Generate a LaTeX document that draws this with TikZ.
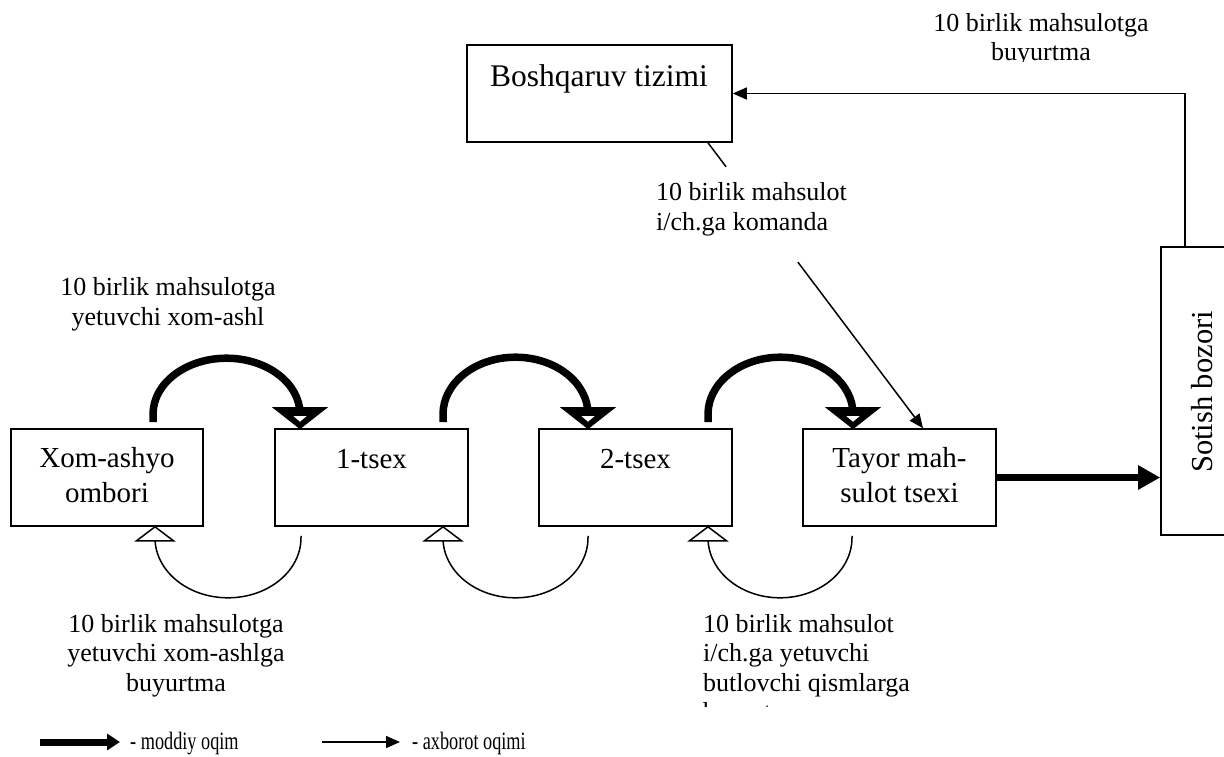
\documentclass[tikz,border=0pt]{standalone}
\usepackage{fontspec}
\setmainfont{Liberation Serif}
\usetikzlibrary{arrows.meta,calc}
\newcommand\matheadtip[1]{%
  \fill (#1) ++(-28,-22) -- ++(56,0) -- (#1) -- cycle;
  \fill[white] (#1) ++(-6.5,-13) -- ++(13,0) -- ++(-6.5,5.5) -- cycle;}
\newcommand\openheadtip[1]{%
  \draw[info, fill=white, line join=miter] (#1) -- ++(18.5,14) -- ++(-37,0) -- cycle;}
\newcommand\narrowtxt[1]{\scalebox{0.73}[1]{#1}}
\begin{document}
\begin{tikzpicture}[x=1pt,y=-1pt,
  box/.style={draw, line width=1.6pt, inner sep=0pt, minimum width=193pt, minimum height=97pt},
  lbl/.style={font=\fontsize{26}{29.5}\selectfont, inner sep=0pt},
  btxt/.style={font=\fontsize{29}{35}\selectfont, inner sep=0pt, anchor=base, align=center},
  matflow/.style={line width=7.5pt},
  info/.style={line width=1.5pt},
  infoarrow/.style={info, -{Triangle[length=14pt,width=12pt]}},
  legtxt/.style={font=\fontsize{25}{28}\selectfont, inner sep=0pt, anchor=base west},
]
\useasboundingbox (0,0) rectangle (1224,756);

% boxes
\node[box, minimum width=192pt] (xom) at (107,477.5) {};
\node[box] (t1) at (371.5,477.5) {};
\node[box] (t2) at (635.5,477.5) {};
\node[box] (tay) at (899.5,477.5) {};
\node[box, minimum width=265pt, minimum height=97pt] (bosh) at (599.5,93.5) {};
\node[box, minimum width=65pt, minimum height=288pt] (sot) at (1193.5,391) {};

% box texts (anchor base = baseline of the last line)
\node[btxt] (xomT) at (107,502) {Xom-ashyo\\ombori};
\node[btxt] (t1T) at (371.5,468) {1-tsex};
\node[btxt] (t2T) at (635.5,468) {2-tsex};
\node[btxt] (tayT) at (899.5,502) {Tayor mah-\\sulot tsexi};
\node[btxt, font=\fontsize{31.5}{36}\selectfont] (boshT) at (599,86) {Boshqaruv tizimi};
\node[font=\fontsize{30.5}{36}\selectfont, inner sep=0pt, rotate=90, anchor=base] (sotT) at (1212,392) {Sotish bozori};

% material flow arcs (top)
\draw[matflow] ([xshift=46pt,yshift=6pt]xom.north) -- ++(0,-8)
  arc[start angle=180, end angle=0, x radius=73.5pt, y radius=56pt] -- ++(0,6);
\matheadtip{$(t1.north)+(-71.5,1)$}
\draw[matflow] ([xshift=71.5pt,yshift=6pt]t1.north) -- ++(0,-8)
  arc[start angle=180, end angle=0, x radius=72.5pt, y radius=57pt] -- ++(0,6);
\matheadtip{$(t2.north)+(-47.5,1)$}
\draw[matflow] ([xshift=72.5pt,yshift=6pt]t2.north) -- ++(0,-8)
  arc[start angle=180, end angle=0, x radius=72.5pt, y radius=57pt] -- ++(0,6);
\matheadtip{$(tay.north)+(-46.5,1)$}

% information flow arcs (bottom)
\draw[info] ([xshift=-70.5pt,yshift=-9pt]t1.south) -- ++(0,2)
  arc[start angle=0, end angle=-180, x radius=73pt, y radius=60pt];
\openheadtip{$(xom.south)+(48,0)$}
\draw[info] ([xshift=-47.5pt,yshift=-9pt]t2.south) -- ++(0,2)
  arc[start angle=0, end angle=-180, x radius=72.5pt, y radius=60pt];
\openheadtip{$(t1.south)+(71.5,0)$}
\draw[info] ([xshift=-47.5pt,yshift=-9pt]tay.south) -- ++(0,2)
  arc[start angle=0, end angle=-180, x radius=72pt, y radius=60pt];
\openheadtip{$(t2.south)+(72.5,0)$}

% finished product to market
\draw[line width=7pt, -{Triangle[length=22pt,width=23pt]}] (tay.east) -- (tay.east -| sot.west);

% market order to management
\draw[infoarrow] ([xshift=-8.5pt]sot.north) |- (bosh.east);

% management command to finished product shop
\coordinate (ka) at ([xshift=108.5pt]bosh.south);
\coordinate (kb) at ([xshift=23.5pt]tay.north);
\draw[info] (ka) -- ($(ka)!0.084!(kb)$);
\draw[infoarrow] ($(ka)!0.418!(kb)$) -- (kb);

% labels (anchor base = baseline of the last line)
\node[lbl, align=center, anchor=base] (l1) at (168,325) {10 birlik mahsulotga\\yetuvchi xom-ashl};
\node[lbl, align=left, anchor=base west] (l2) at (656,230) {10 birlik mahsulot\\i/ch.ga komanda};
\begin{scope}
  \clip (850,0) rectangle (1160,61);
  \node[lbl, align=center, anchor=base] (l3) at (1041,60.5) {10 birlik mahsulotga\\buyurtma};
\end{scope}
\node[lbl, align=center, anchor=base] (l4) at (176,691) {10 birlik mahsulotga\\yetuvchi xom-ashlga\\buyurtma};
\begin{scope}
  \clip (690,600) rectangle (1000,706);
  \node[lbl, align=left, anchor=base west] (l5) at (703,720.5) {10 birlik mahsulot\\i/ch.ga yetuvchi\\butlovchi qismlarga\\buyurtma};
\end{scope}

% legend
\coordinate (la1) at (40,742);
\coordinate (lb1) at (120,742);
\draw[line width=7pt, -{Triangle[length=13pt,width=16pt]}] (la1) -- (lb1);
\node[legtxt] (lt1) at (130,749) {\narrowtxt{- moddiy oqim}};
\coordinate (la2) at (322,742);
\coordinate (lb2) at (400,742);
\draw[infoarrow] (la2) -- (lb2);
\node[legtxt] (lt2) at (412,749) {\narrowtxt{- axborot oqimi}};
\end{tikzpicture}
\end{document}
